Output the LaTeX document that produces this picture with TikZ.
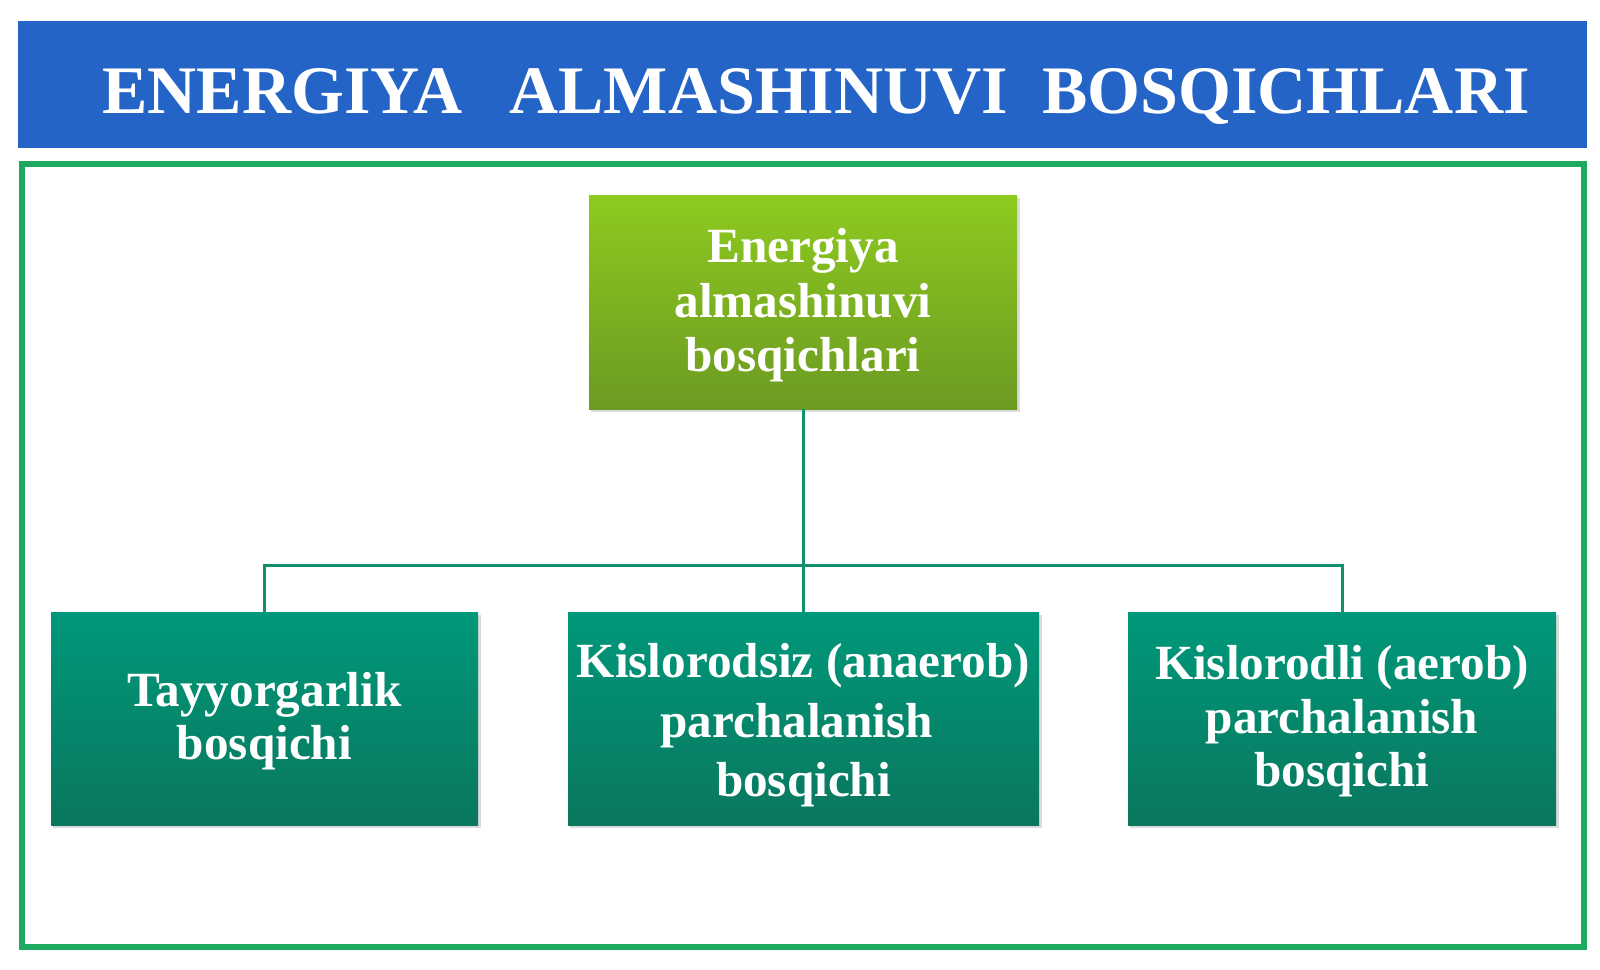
\documentclass[tikz,border=0pt]{standalone}
\usepackage{fontspec}
\setmainfont{Liberation Serif}
\definecolor{titleblue}{HTML}{2464C7}
\definecolor{framegreen}{HTML}{1DA960}
\definecolor{topA}{HTML}{8ECA1F}
\definecolor{topB}{HTML}{6C9A22}
\definecolor{tealA}{HTML}{00987A}
\definecolor{tealB}{HTML}{0A775E}
\definecolor{linkteal}{HTML}{12906E}
\tikzset{
  x=0.5pt, y=-0.5pt,
  boxshape/.style={rectangle, inner sep=0pt, draw=none},
  topbox/.style={boxshape, minimum width=214pt, minimum height=107pt,
    top color=topA, bottom color=topB},
  stagebox/.style={boxshape, minimum height=106.5pt,
    top color=tealA, bottom color=tealB},
  boxtext/.style={inner sep=0pt, text=white, align=center,
    font=\bfseries\fontsize{24.6}{27.3}\selectfont},
  link/.style={draw=linkteal, line width=1.5pt},
  shade/.style={fill=black!14}
}
\begin{document}
\begin{tikzpicture}
\useasboundingbox (0,0) rectangle (1600,969);
\fill[white] (0,0) rectangle (1600,969);
% title bar
\fill[titleblue] (18,21) rectangle (1587,148);
\node[text=white, inner sep=0pt, anchor=base west, font=\bfseries\fontsize{34.0}{40}\selectfont] (title) at (102,113) {ENERGIYA\hspace{0.69em}ALMASHINUVI\hspace{0.5em}BOSQICHLARI};
% frame
\draw[framegreen, line width=3pt] (22,163.5) rectangle (1583.5,946.5);
% shadows
\fill[shade] (591,198) rectangle (1020,412);
\fill[shade] (53,615) rectangle (481,828);
\fill[shade] (570,615) rectangle (1042,828);
\fill[shade] (1130,615) rectangle (1559,828);
% boxes
\node[topbox] (top) at (803,302) {};
\node[stagebox, minimum width=213.5pt] (s1) at (264.5,718.5) {};
\node[stagebox, minimum width=235.5pt] (s2) at (803.5,718.5) {};
\node[stagebox, minimum width=214pt] (s3) at (1342,718.5) {};
% texts
\node[boxtext, yshift=-1.75pt] (t0) at (top.center) {Energiya\\almashinuvi\\bosqichlari};
\node[boxtext, yshift=-1.5pt, font=\bfseries\fontsize{24.6}{26.5}\selectfont] (t1) at (s1.center) {Tayyorgarlik\\bosqichi};
\node[boxtext, yshift=-3.5pt, font=\bfseries\fontsize{24.6}{29.7}\selectfont] (t2) at (s2.center) {Kislorodsiz (anaerob)\\parchalanish\rule{0.28em}{0pt}\\bosqichi};
\node[boxtext, yshift=-1.5pt, font=\bfseries\fontsize{24.6}{26.8}\selectfont] (t3) at (s3.center) {Kislorodli (aerob)\\parchalanish\\bosqichi};
% connectors
\coordinate (hub) at (803,565.5);
\draw[link] (top.south) -- (hub);
\draw[link] (hub) -- (s2.north -| hub);
\draw[link] (s1.north) |- (hub);
\draw[link] (s3.north) |- (hub);
\end{tikzpicture}
\end{document}
